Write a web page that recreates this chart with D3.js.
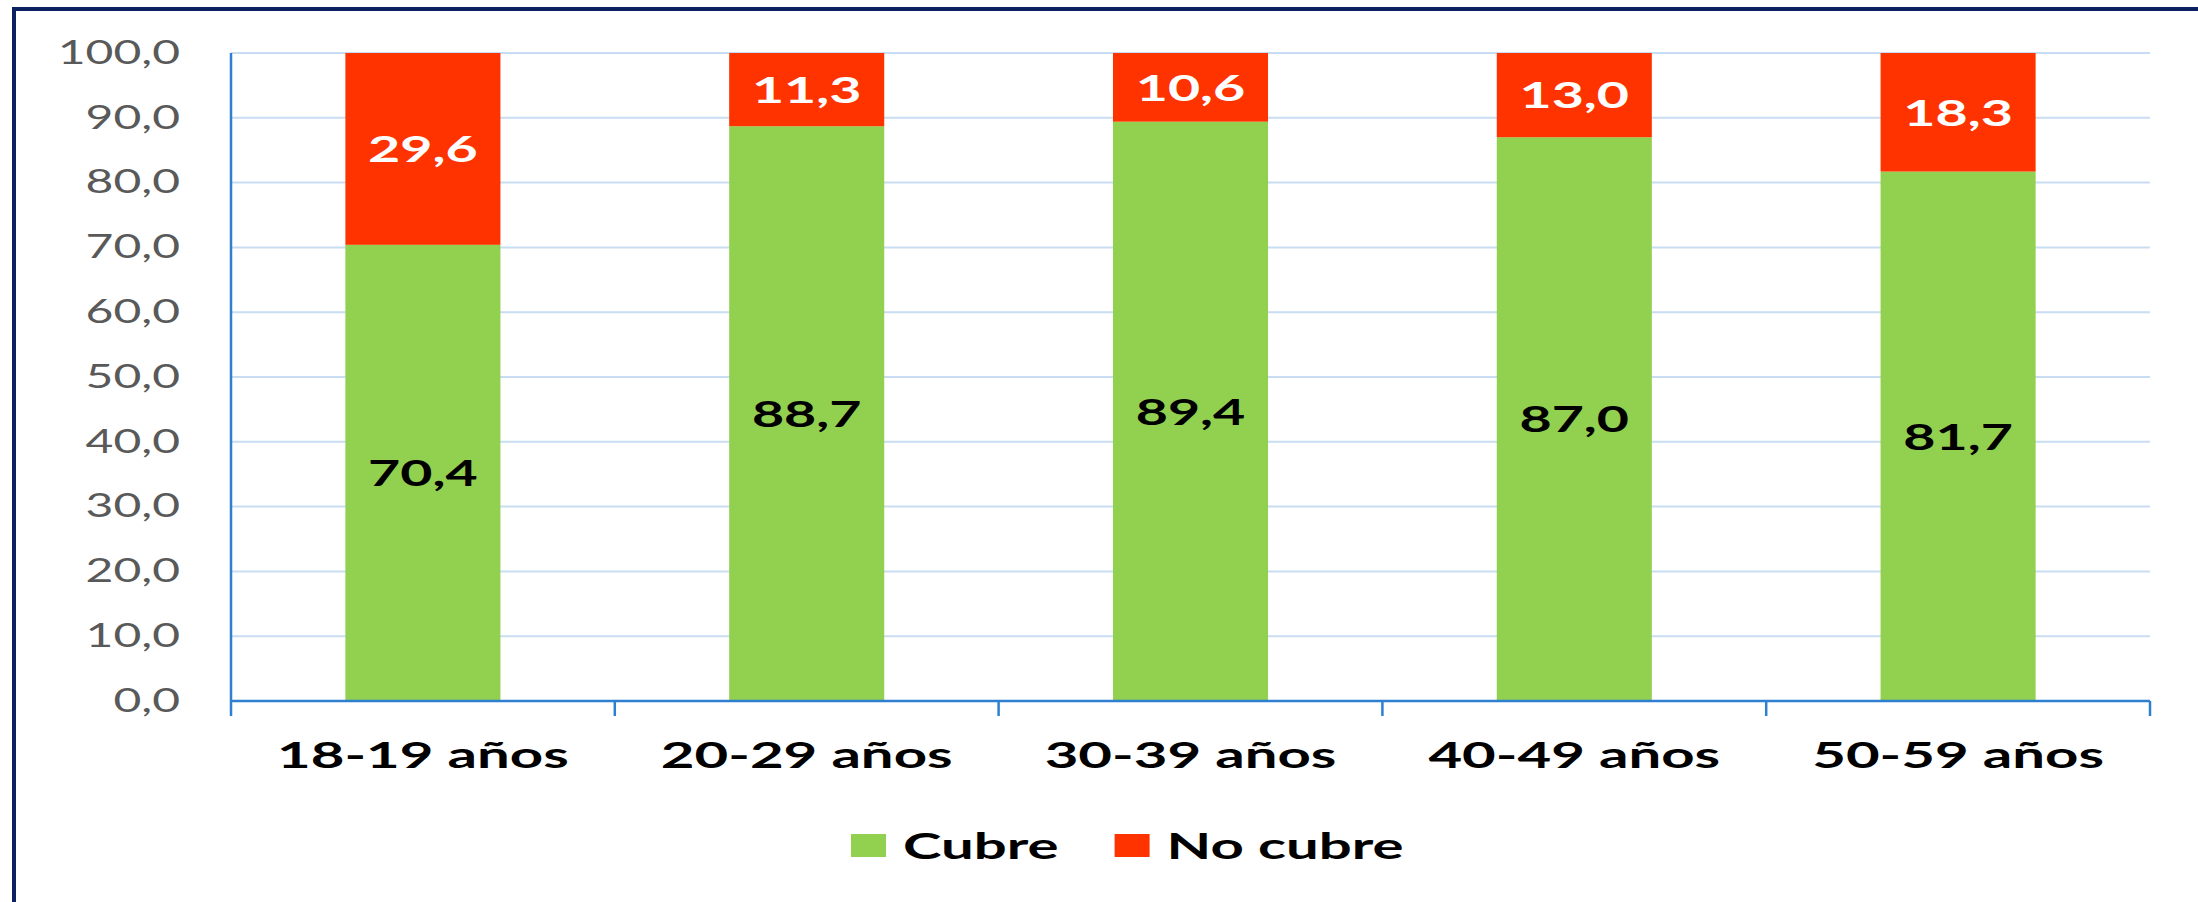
<!DOCTYPE html>
<html>
<head>
<meta charset="utf-8">
<script src="https://cdn.jsdelivr.net/npm/d3@7"></script>
<style>
    html, body { margin: 0; padding: 0; background: #ffffff; }
    svg { display: block; }
    text { font-family: Lato, "Open Sans", sans-serif; }
</style>
</head>
<body>
<svg id="chart"></svg>
<script>
// data
const categories = ["18-19 años", "20-29 años", "30-39 años", "40-49 años", "50-59 años"];
const cubre = [70.4, 88.7, 89.4, 87.0, 81.7];
const noCubre = [29.6, 11.3, 10.6, 13.0, 18.3];
const seriesNames = ["Cubre", "No cubre"];
const yTicks = [0, 10, 20, 30, 40, 50, 60, 70, 80, 90, 100];

const colors = { "Cubre": "#92d050", "No cubre": "#ff3300" };

const width = 2198, height = 902;
const margin = { top: 53, right: 48, bottom: 201, left: 231 };
const innerW = width - margin.left - margin.right;
const innerH = height - margin.top - margin.bottom;

// glyphs in the source are stretched sideways
const STRETCH = 1.5;
const LABEL_STRETCH = 1.57;
const fmt = (d) => d.toFixed(1).replace(".", ",");

function stretch(sel, k) {
    sel.each(function () {
        const w = this.getComputedTextLength();
        this.setAttribute("textLength", w * k);
        this.setAttribute("lengthAdjust", "spacingAndGlyphs");
    });
}

const svg = d3.select("#chart")
    .attr("width", width)
    .attr("height", height);

// frame (only top and left edges are visible in the source)
svg.append("path")
    .attr("d", `M14,${height + 10} L14,9 L${width + 10},9`)
    .attr("fill", "none")
    .attr("stroke", "#0b2161")
    .attr("stroke-width", 4);

const chart = svg.append("g")
    .attr("transform", `translate(${margin.left}, ${margin.top})`);

const x = d3.scaleBand()
    .domain(categories)
    .range([0, innerW])
    .paddingInner(0.596)
    .paddingOuter(0.298);

const y = d3.scaleLinear()
    .domain([0, 100])
    .range([innerH, 0]);

// gridlines
chart.append("g")
    .selectAll("line")
    .data(yTicks.filter((d) => d > 0))
    .join("line")
    .attr("x1", 0)
    .attr("x2", innerW)
    .attr("y1", (d) => y(d))
    .attr("y2", (d) => y(d))
    .attr("stroke", "#c9ddf2")
    .attr("stroke-width", 2);

// y axis labels
const yAxis = d3.axisLeft(y)
    .tickValues(yTicks)
    .tickFormat(fmt)
    .tickSize(0)
    .tickPadding(51);

const yAxisGroup = chart.append("g").call(yAxis);
yAxisGroup.select(".domain").remove();
yAxisGroup.selectAll("text")
    .attr("fill", "#595959")
    .style("font-size", "32px")
    .style("font-family", "Lato")
    .call(stretch, STRETCH);

// stacked bars
const rows = categories.map((c, i) => ({ cat: c, "Cubre": cubre[i], "No cubre": noCubre[i] }));
const stack = d3.stack().keys(seriesNames)(rows);

const layers = chart.append("g")
    .selectAll("g")
    .data(stack)
    .join("g")
    .attr("fill", (d) => colors[d.key]);

layers.selectAll("rect")
    .data((d) => d)
    .join("rect")
    .attr("x", (d) => x(d.data.cat))
    .attr("width", x.bandwidth())
    .attr("y", (d) => y(Math.min(d[1], 100)))
    .attr("height", (d) => y(d[0]) - y(Math.min(d[1], 100)));

// value labels
layers.each(function (layer) {
    d3.select(this).selectAll("text")
        .data(layer)
        .join("text")
        .attr("x", (d) => x(d.data.cat) + x.bandwidth() / 2)
        .attr("y", (d) => y((d[0] + Math.min(d[1], 100)) / 2))
        .attr("dy", "0.36em")
        .attr("text-anchor", "middle")
        .attr("fill", layer.key === "Cubre" ? "#000000" : "#ffffff")
        .style("font-size", "37px")
        .style("font-weight", "bold")
        .text((d) => fmt(d.data[layer.key]))
        .call(stretch, STRETCH);
});

// x axis: line plus ticks on the category boundaries
const axisColor = "#2f7fd0";
const boundaries = d3.range(categories.length + 1).map((i) => i * x.step());

chart.append("line")
    .attr("x1", 0)
    .attr("x2", 0)
    .attr("y1", y(100))
    .attr("y2", innerH + 15)
    .attr("stroke", axisColor)
    .attr("stroke-width", 2.5);

chart.append("line")
    .attr("x1", 0)
    .attr("x2", innerW)
    .attr("y1", innerH)
    .attr("y2", innerH)
    .attr("stroke", axisColor)
    .attr("stroke-width", 2.5);

chart.append("g")
    .selectAll("line")
    .data(boundaries.slice(1))
    .join("line")
    .attr("x1", (d) => d)
    .attr("x2", (d) => d)
    .attr("y1", innerH)
    .attr("y2", innerH + 15)
    .attr("stroke", axisColor)
    .attr("stroke-width", 2.5);

chart.append("g")
    .selectAll("text")
    .data(categories)
    .join("text")
    .attr("x", (d) => x(d) + x.bandwidth() / 2)
    .attr("y", innerH + 67)
    .attr("text-anchor", "middle")
    .attr("fill", "#000000")
    .style("font-size", "37px")
    .style("font-weight", "bold")
    .text((d) => d)
    .call(stretch, LABEL_STRETCH);

// legend
const legend = svg.append("g");
let lx = 851;
seriesNames.forEach((name) => {
    legend.append("rect")
        .attr("x", lx)
        .attr("y", 834)
        .attr("width", 35)
        .attr("height", 23)
        .attr("fill", colors[name]);
    const t = legend.append("text")
        .attr("x", lx + 52)
        .attr("y", 859)
        .attr("fill", "#000000")
        .style("font-size", "37px")
        .style("font-weight", "bold")
        .text(name)
        .call(stretch, LABEL_STRETCH);
    lx += 52 + t.node().getComputedTextLength() + 56;
});
</script>
</body>
</html>
